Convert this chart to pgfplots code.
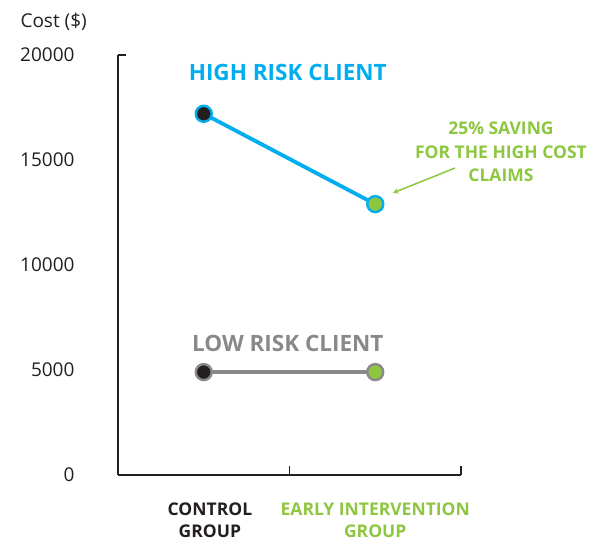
\documentclass[border=0pt]{standalone}
\usepackage{pgfplots}
\pgfplotsset{compat=1.18}
\usepackage{fontspec}
\setmainfont{Open Sans}
\definecolor{cblue}{HTML}{00AEEF}
\definecolor{cgreen}{HTML}{8DC63F}
\definecolor{cgray}{HTML}{8A8888}
\definecolor{cblack}{HTML}{231F20}
\begin{document}
\begin{tikzpicture}
\useasboundingbox (-118pt,-66pt) rectangle (483pt,475pt);
\begin{axis}[
  at={(0,0)}, anchor=origin,
  scale only axis, width=343pt, height=420pt,
  xmin=0, xmax=2, ymin=0, ymax=20000,
  axis lines=left,
  axis line style={-, line width=1.6pt, draw=cblack},
  xtick={1,2}, xticklabels={},
  ytick={0,5000,10000,15000,20000},
  scaled y ticks=false,
  /pgf/number format/assume math mode=true,
  /pgf/number format/1000 sep={},
  y tick style={draw=none},
  x tick style={line width=1.5pt, draw=cblack},
  major tick length=9pt,
  tick align=inside,
  yticklabel style={font=\fontsize{19}{21}\selectfont, color=cblack, anchor=east, xshift=-40pt},
  clip=false,
]
\addplot[cblue, line width=3.8pt] coordinates {(0.5,17200) (1.5,12900)};
\addplot[cgray, line width=3.8pt] coordinates {(0.5,4900) (1.5,4900)};
\addplot[only marks, mark=*, mark size=8pt,
  mark options={line width=2.4pt, draw=cblue, fill=cblack}] coordinates {(0.5,17200)};
\addplot[only marks, mark=*, mark size=8pt,
  mark options={line width=2.4pt, draw=cblue, fill=cgreen}] coordinates {(1.5,12900)};
\addplot[only marks, mark=*, mark size=8pt,
  mark options={line width=2.4pt, draw=cgray, fill=cblack}] coordinates {(0.5,4900)};
\addplot[only marks, mark=*, mark size=8pt,
  mark options={line width=2.4pt, draw=cgray, fill=cgreen}] coordinates {(1.5,4900)};
\draw[line width=1.5pt, draw=cblack] (axis cs:0,20000) -- ++(8pt,0);
\node[anchor=west, font=\fontsize{19}{21}\selectfont, color=cblack, xshift=-101pt, yshift=33pt] at (axis description cs:0,1) {Cost (\$)};
\node[font=\fontsize{22.5}{24}\bfseries\selectfont, color=cblue] at (axis cs:0.99,19150) {HIGH RISK CLIENT};
\node[font=\fontsize{22.5}{24}\bfseries\selectfont, color=cgray] at (axis cs:0.99,6286) {LOW RISK CLIENT};
\node[font=\fontsize{17.5}{23.5}\bfseries\selectfont, color=cgreen, align=center] at (axis cs:2.233,15381) {25\% SAVING\\FOR THE HIGH COST\\CLAIMS};
\draw[->, >=stealth, cgreen, line width=1.5pt] (axis cs:1.965,14619) -- (axis cs:1.603,13429);
\node[font=\fontsize{17.5}{22}\bfseries\selectfont, color=cblack, align=center] at (axis cs:0.536,-2143) {CONTROL\\GROUP};
\node[font=\fontsize{17.5}{22}\bfseries\selectfont, color=cgreen, align=center] at (axis cs:1.5,-2143) {EARLY INTERVENTION\\GROUP};
\end{axis}
\end{tikzpicture}
\end{document}
